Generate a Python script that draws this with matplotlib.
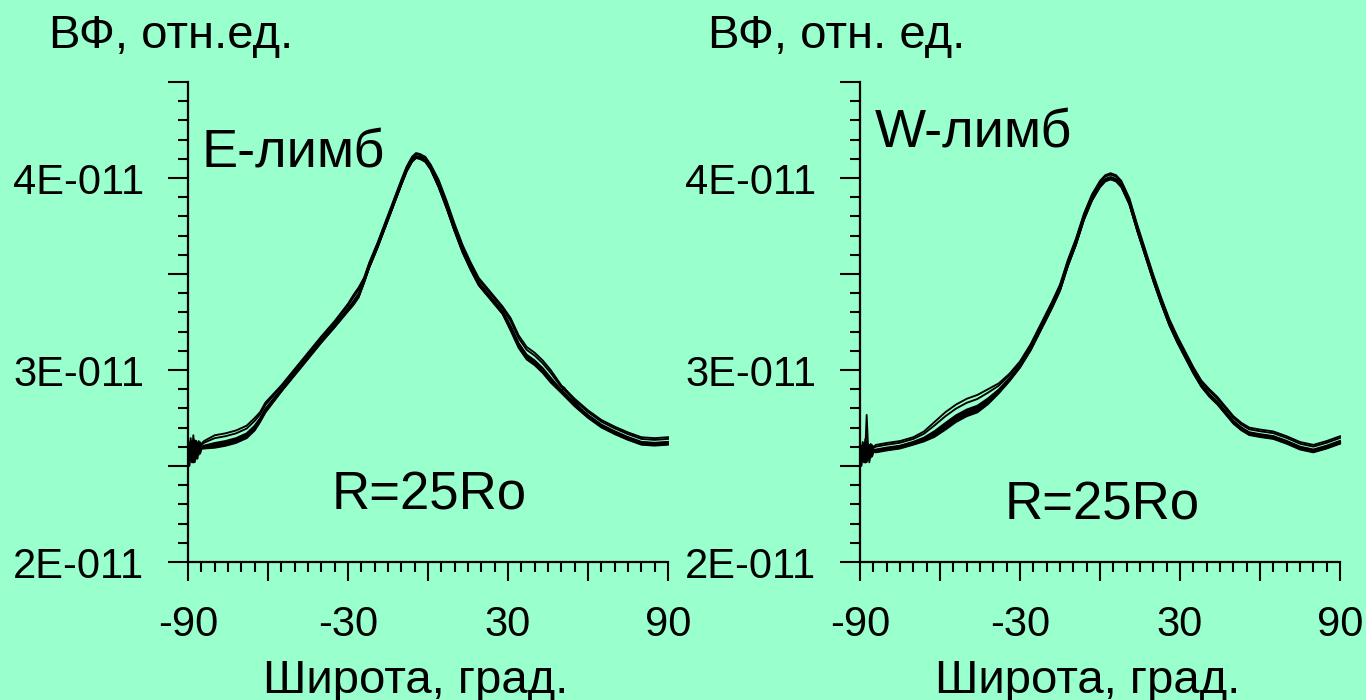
import matplotlib
matplotlib.use("Agg")
import matplotlib.pyplot as plt
from matplotlib.ticker import MultipleLocator, FuncFormatter
import numpy as np

# Latitude grid and mean profile, E limb (values in units of 1E-011)
lat_e = [-90, -89.5, -89, -88.5, -88, -87.5, -87, -86.5, -86, -85.5, -85,
         -84, -80, -76, -72, -68, -65, -63, -61,
         -55, -50, -45, -40, -35, -30, -28, -26, -24, -22,
         -19, -16, -13, -10, -8, -6, -4.5, -3, -1, 1,
         4, 7, 10, 13, 16, 19, 22, 25, 28, 31,
         34, 37, 40, 43, 46, 50, 55, 60, 65, 70,
         75, 80, 85, 90]
val_e = [2.57, 2.57, 2.575, 2.575, 2.58, 2.58, 2.585, 2.585, 2.59, 2.59, 2.595,
         2.60, 2.61, 2.62, 2.635, 2.66, 2.70, 2.74, 2.79,
         2.895, 2.98, 3.065, 3.15, 3.23, 3.315, 3.35, 3.39, 3.46, 3.54,
         3.64, 3.75, 3.86, 3.97, 4.04, 4.09, 4.11, 4.105, 4.09, 4.05,
         3.96, 3.85, 3.73, 3.62, 3.53, 3.45, 3.40, 3.35, 3.30, 3.22,
         3.13, 3.07, 3.04, 3.00, 2.95, 2.89, 2.82, 2.76, 2.71, 2.675,
         2.645, 2.62, 2.615, 2.62]
# width of the bundle of individual profiles, E limb
band_e = [0.02, 0.02, 0.02, 0.02, 0.02, 0.02, 0.02, 0.02, 0.02, 0.02, 0.02,
          0.03, 0.05, 0.05, 0.05, 0.05, 0.05, 0.04, 0.04,
          0.025, 0.025, 0.025, 0.025, 0.025, 0.03, 0.04, 0.04, 0.02, 0.02,
          0.02, 0.02, 0.02, 0.02, 0.02, 0.02, 0.02, 0.02, 0.02, 0.02,
          0.03, 0.03, 0.03, 0.03, 0.03, 0.03, 0.03, 0.03, 0.03, 0.05,
          0.05, 0.05, 0.05, 0.05, 0.05, 0.03, 0.03, 0.03, 0.03, 0.03,
          0.03, 0.03, 0.03, 0.03]

# Latitude grid and mean profile, W limb
lat_w = [-90, -89.5, -89, -88.5, -88, -87.5, -87, -86.5, -86, -85.5, -85,
         -84, -80, -75, -70, -66, -62, -58, -54, -50, -46,
         -42, -38, -34, -30, -26, -22, -18, -15, -12, -9,
         -6, -3, 0, 2, 4, 6, 8, 11, 14, 17,
         20, 23, 26, 29, 32, 35, 38, 41, 44, 47,
         50, 53, 56, 60, 65, 70, 75, 80, 85, 90]
val_w = [2.56, 2.56, 2.565, 2.565, 2.57, 2.57, 2.57, 2.575, 2.575, 2.575, 2.58,
         2.58, 2.59, 2.60, 2.62, 2.64, 2.67, 2.71, 2.75, 2.78, 2.80,
         2.84, 2.89, 2.95, 3.02, 3.11, 3.22, 3.33, 3.42, 3.55, 3.66,
         3.79, 3.89, 3.96, 3.99, 4.00, 3.99, 3.96, 3.87, 3.73, 3.60,
         3.47, 3.35, 3.24, 3.15, 3.07, 2.99, 2.92, 2.87, 2.83, 2.78,
         2.73, 2.695, 2.67, 2.66, 2.65, 2.625, 2.595, 2.58, 2.60, 2.625]
band_w = [0.02, 0.02, 0.02, 0.02, 0.02, 0.02, 0.02, 0.02, 0.02, 0.02, 0.02,
          0.03, 0.03, 0.03, 0.03, 0.04, 0.06, 0.07, 0.07, 0.07, 0.07,
          0.06, 0.04, 0.03, 0.025, 0.025, 0.025, 0.025, 0.025, 0.025, 0.025,
          0.025, 0.025, 0.025, 0.025, 0.025, 0.025, 0.025, 0.025, 0.025, 0.025,
          0.025, 0.025, 0.025, 0.025, 0.025, 0.025, 0.025, 0.03, 0.03, 0.03,
          0.03, 0.03, 0.03, 0.03, 0.03, 0.03, 0.03, 0.03, 0.03, 0.03]

# position of each individual profile within the bundle
curve_pos = [-0.3, -0.2, -0.1, 0.0, 0.1, 0.2, 0.7, 1.0]

# detector noise near the pole (-90..-85 deg), one pattern per profile
edge_noise_e = [
    [0.00, -0.06, 0.04, -0.03, 0.05, -0.05, 0.03, -0.04, 0.04, -0.02, 0.0],
    [0.04, -0.03, 0.06, -0.05, 0.02, -0.04, 0.05, -0.02, 0.03, -0.02, 0.0],
    [-0.05, 0.04, -0.02, 0.05, -0.06, 0.03, -0.03, 0.04, -0.03, 0.02, 0.0],
    [0.02, -0.07, 0.03, -0.02, 0.04, -0.06, 0.02, -0.03, 0.02, -0.01, 0.0],
    [-0.03, 0.05, -0.04, 0.03, -0.03, 0.05, -0.05, 0.03, -0.02, 0.01, 0.0],
    [0.05, -0.02, 0.02, -0.06, 0.03, -0.02, 0.04, -0.05, 0.03, -0.01, 0.0],
    [-0.02, 0.03, -0.06, 0.04, -0.02, 0.04, -0.02, 0.02, -0.04, 0.02, 0.0],
    [0.03, -0.04, 0.05, -0.04, 0.06, -0.03, 0.02, -0.03, 0.02, -0.02, 0.0],
]
edge_noise_w = [
    [0.00, -0.05, 0.03, -0.03, 0.04, -0.04, 0.03, -0.04, 0.03, -0.02, 0.0],
    [0.03, -0.03, 0.05, -0.04, 0.02, 0.20, 0.04, -0.02, 0.03, -0.02, 0.0],
    [-0.04, 0.03, -0.02, 0.04, -0.05, 0.03, -0.03, 0.03, -0.03, 0.02, 0.0],
    [0.02, -0.06, 0.03, -0.02, 0.03, -0.05, 0.02, -0.03, 0.02, -0.01, 0.0],
    [-0.03, 0.04, -0.04, 0.03, -0.03, 0.04, -0.04, 0.03, -0.02, 0.01, 0.0],
    [0.04, -0.02, 0.02, -0.05, 0.03, -0.02, 0.04, -0.06, 0.03, -0.01, 0.0],
    [-0.02, 0.03, -0.05, 0.04, -0.02, 0.04, -0.02, 0.02, -0.03, 0.02, 0.0],
    [0.03, -0.04, 0.04, -0.03, 0.05, -0.03, 0.02, -0.03, 0.02, -0.02, 0.0],
]

# a short jump in one E-limb profile around 50..57 deg
glitch_lat = [50, 51, 57]
glitch_val = [2.89, 2.91, 2.80]

BG = "#99FFCC"
FONT = "Liberation Sans"
plt.rcParams["font.family"] = [FONT, "DejaVu Sans"]

fig = plt.figure(figsize=(13.66, 7.0), dpi=100, facecolor=BG)

W, H = 1366.0, 700.0
ax_e = fig.add_axes([188 / W, (H - 562) / H, 480 / W, 480 / H])
ax_w = fig.add_axes([860 / W, (H - 562) / H, 480 / W, 480 / H])


def ylabel_fmt(v, pos):
    n = round(v)
    if abs(v - n) < 1e-6:
        return f"{n}E-011"
    return ""


def xlabel_fmt(v, pos):
    n = int(round(v))
    if n in (-90, -30, 30, 90):
        return str(n)
    return ""


def style(ax):
    ax.set_facecolor(BG)
    ax.set_xlim(-90, 90)
    ax.set_ylim(2.0, 4.5)
    for s in ("top", "right"):
        ax.spines[s].set_visible(False)
    for s in ("left", "bottom"):
        ax.spines[s].set_linewidth(1.6)
    ax.xaxis.set_major_locator(MultipleLocator(30))
    ax.xaxis.set_minor_locator(MultipleLocator(5))
    ax.yaxis.set_major_locator(MultipleLocator(0.5))
    ax.yaxis.set_minor_locator(MultipleLocator(0.1))
    ax.xaxis.set_major_formatter(FuncFormatter(xlabel_fmt))
    ax.yaxis.set_major_formatter(FuncFormatter(ylabel_fmt))
    ax.tick_params(axis="both", which="major", direction="out", width=1.5,
                   labelsize=30, colors="black")
    ax.tick_params(axis="y", which="major", length=14.4, pad=17)
    ax.tick_params(axis="x", which="major", length=13.7, pad=17)
    ax.tick_params(axis="both", which="minor", direction="out", width=1.5,
                   length=7.5)
    for lab in ax.get_xticklabels() + ax.get_yticklabels():
        lab.set_fontfamily([FONT, "DejaVu Sans"])


def draw_bundle(ax, lat, val, band, noise):
    lat = np.asarray(lat, dtype=float)
    val = np.asarray(val, dtype=float)
    band = np.asarray(band, dtype=float)
    for k, p in enumerate(curve_pos):
        y = val + p * band
        y[:len(noise[k])] += np.asarray(noise[k])
        ax.plot(lat, y, color="black", lw=1.35, clip_on=False,
                solid_joinstyle="round")


style(ax_e)
style(ax_w)
draw_bundle(ax_e, lat_e, val_e, band_e, edge_noise_e)
draw_bundle(ax_w, lat_w, val_w, band_w, edge_noise_w)
ax_e.plot(glitch_lat, glitch_val, color="black", lw=1.2)


def ftext(x, y, s, size, ha="left"):
    fig.text(x / W, 1 - y / H, s, fontsize=size, ha=ha, va="baseline",
             family=[FONT, "DejaVu Sans"], color="black")


ftext(49, 48, "ВФ, отн.ед.", 34)
ftext(708, 48, "ВФ, отн. ед.", 34)
ftext(202, 167, "E-лимб", 39)
ftext(875, 148, "W-лимб", 39)
ftext(332, 510, "R=25Ro", 38)
ftext(1005, 520, "R=25Ro", 38)
ftext(416, 693, "Широта, град.", 34, ha="center")
ftext(1088, 693, "Широта, град.", 34, ha="center")

fig.savefig("out.png", dpi=100, facecolor=BG)
